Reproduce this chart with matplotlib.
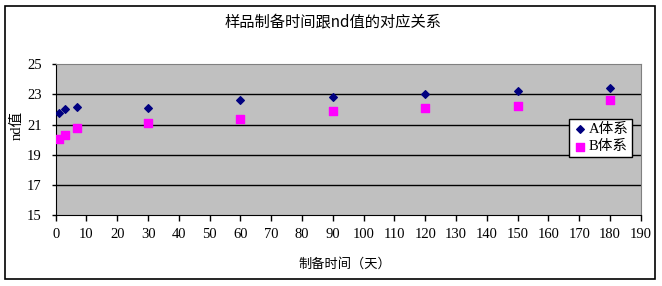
import matplotlib
matplotlib.use("Agg")
import matplotlib.pyplot as plt
from matplotlib.patches import Rectangle

# preparation time (days) and nd values for the two systems
days = [1, 3, 7, 30, 60, 90, 120, 150, 180]
nd_a = [21.78, 22.04, 22.17, 22.13, 22.64, 22.86, 23.00, 23.23, 23.46]
nd_b = [20.05, 20.34, 20.78, 21.09, 21.38, 21.87, 22.11, 22.24, 22.62]
x_ticks = list(range(0, 191, 10))
y_ticks = [15, 17, 19, 21, 23, 25]

FONT = ["Liberation Serif", "Noto Sans CJK SC"]
plt.rcParams["font.family"] = FONT

W, H = 662, 286
fig = plt.figure(figsize=(W / 100, H / 100), dpi=100)
fig.patch.set_facecolor("white")

# outer chart frame
fig.add_artist(Rectangle((5 / W, 1 - 279 / H), 650 / W, 273 / H, transform=fig.transFigure,
                         fill=False, edgecolor="black", lw=1.2))

ax = fig.add_axes([55.7 / W, 1 - 215 / H, (640.8 - 55.7) / W, (215 - 64.3) / H])
ax.set_facecolor("#C0C0C0")
ax.set_xlim(0, 190); ax.set_ylim(15, 25)
ax.set_xticks(x_ticks); ax.set_yticks(y_ticks)
ax.tick_params(axis="x", direction="out", length=4, width=1, labelsize=10.5, pad=5)
ax.tick_params(axis="y", direction="out", length=3, width=1, labelsize=10.5, pad=7)
for t in y_ticks[1:-1]:
    ax.axhline(t, color="black", lw=1, zorder=1)
ax.spines["top"].set_color("#808080"); ax.spines["right"].set_color("#808080")
ax.spines["left"].set_color("black"); ax.spines["bottom"].set_color("black")

ax.scatter(days, nd_a, marker="D", s=15, color="#000080", zorder=3, label="A体系")
ax.scatter(days, nd_b, marker="s", s=30, color="#FF00FF", zorder=3, label="B体系")

fig.text(333 / W, 1 - 22 / H, "样品制备时间跟nd值的对应关系", ha="center", va="center", fontsize=11,
         family=["Noto Sans CJK SC"])
fig.text(345 / W, 1 - 264 / H, "制备时间（天）", ha="center", va="center", fontsize=9.5,
         family=["Noto Sans CJK SC"])
fig.text(17 / W, 1 - 125 / H, "nd值", ha="center", va="center", rotation=90, fontsize=10.5)

leg = ax.legend(loc="upper left", bbox_to_anchor=((569 - 55.7) / (640.8 - 55.7), (215 - 119) / (215 - 64.3)),
                frameon=True, fancybox=False, fontsize=10.5, handletextpad=0.1, handlelength=1,
                borderpad=0.25, labelspacing=0.3, borderaxespad=0)
leg.get_frame().set_edgecolor("black"); leg.get_frame().set_linewidth(1)
leg.get_frame().set_facecolor("white"); leg.get_frame().set_alpha(1)

fig.savefig("out.png", dpi=100)
